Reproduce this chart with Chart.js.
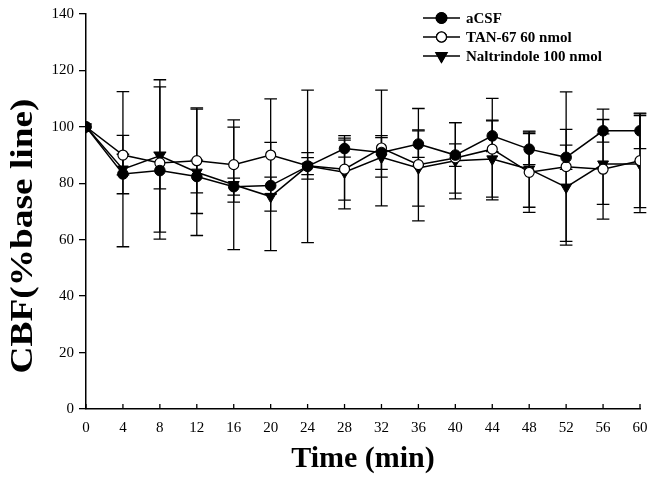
<!DOCTYPE html>
<html><head><meta charset="utf-8">
<script src="https://cdn.jsdelivr.net/npm/chart.js@4/dist/chart.umd.min.js"></script>
<style>html,body{margin:0;padding:0;background:#fff;}#wrap{width:653px;height:480px;}</style>
</head><body><div id="wrap"><canvas id="c" width="653" height="480"></canvas></div>
<script>
const times = [0, 4, 8, 12, 16, 20, 24, 28, 32, 36, 40, 44, 48, 52, 56, 60];
const yTicks = [0, 20, 40, 60, 80, 100, 120, 140];
const seriesNames = ['aCSF', 'TAN-67 60 nmol', 'Naltrindole 100 nmol'];
const aCSF      = [100, 83.3, 84.5, 82.4, 78.8, 79.2, 86.0, 92.3, 90.9, 93.9, 90.0, 96.8, 92.1, 89.2, 98.6, 98.6];
const aCSFErr   = [0, 7, 6.5, 5.8, 3, 3, 27, 3, 6, 4.7, 4, 5.6, 5.5, 4.3, 4, 6.3];
const tan67     = [100, 90.0, 87.2, 88.0, 86.6, 90.0, 86.2, 85.0, 92.5, 86.6, 89.0, 92.1, 83.9, 85.9, 85.0, 88.0];
const tan67Err  = [0, 7, 27, 18.7, 13.3, 19.9, 4.7, 11, 20.5, 19.9, 12.5, 18, 14.2, 26.5, 12.5, 16.6];
const nal       = [100, 85.0, 89.7, 83.9, 79.5, 75.3, 86.1, 83.9, 89.2, 85.4, 88.0, 88.6, 85.0, 78.6, 86.8, 86.8];
const nalErr    = [0, 27.5, 27, 22.4, 23, 19.2, 3, 13, 7, 13.5, 13.5, 13.5, 13.5, 20.5, 19.5, 17.2];
const xTitle = 'Time (min)';
const yTitle = 'CBF(%base line)';

const toXY = arr => times.map((t, i) => ({x: t, y: arr[i]}));

const errorBars = {
  id: 'errorBars',
  beforeDatasetsDraw(chart) {
    const {ctx, scales: {x, y}} = chart;
    ctx.save();
    ctx.strokeStyle = '#000';
    ctx.lineWidth = 1.3;
    chart.data.datasets.forEach(ds => {
      ds.errors.forEach((e, i) => {
        if (!e) return;
        const px = x.getPixelForValue(times[i]);
        const v = ds.data[i].y;
        const top = y.getPixelForValue(v + e), bot = y.getPixelForValue(v - e);
        ctx.beginPath();
        ctx.moveTo(px, top); ctx.lineTo(px, bot);
        ctx.moveTo(px - 6.3, top); ctx.lineTo(px + 6.3, top);
        ctx.moveTo(px - 6.3, bot); ctx.lineTo(px + 6.3, bot);
        ctx.stroke();
      });
    });
    ctx.restore();
  }
};

const xInnerTicks = {
  id: 'xInnerTicks',
  afterDraw(chart) {
    const {ctx, scales: {x, y}} = chart;
    ctx.save();
    ctx.strokeStyle = '#000';
    ctx.lineWidth = 1.3;
    const base = y.getPixelForValue(0);
    times.forEach(t => {
      const px = x.getPixelForValue(t);
      ctx.beginPath(); ctx.moveTo(px, base); ctx.lineTo(px, base - 5); ctx.stroke();
    });
    ctx.restore();
  }
};

const yTitlePlugin = {
  id: 'yTitlePlugin',
  afterDraw(chart) {
    const ctx = chart.ctx;
    ctx.save();
    ctx.font = 'bold 31px "Liberation Serif"';
    ctx.fillStyle = '#000';
    ctx.textAlign = 'center';
    ctx.textBaseline = 'middle';
    ctx.translate(24, 236);
    ctx.rotate(-Math.PI / 2);
    const w = ctx.measureText(yTitle).width;
    ctx.scale(275 / w, 1);
    ctx.fillText(yTitle, 0, 0);
    ctx.restore();
  }
};

const legendPlugin = {
  id: 'legendPlugin',
  afterDraw(chart) {
    const ctx = chart.ctx;
    const rows = [18, 37, 56];
    ctx.save();
    chart.data.datasets.forEach((ds, i) => {
      const yy = rows[i];
      ctx.strokeStyle = '#000';
      ctx.lineWidth = 1.5;
      ctx.beginPath(); ctx.moveTo(423, yy); ctx.lineTo(460, yy); ctx.stroke();
      Chart.helpers.drawPoint(ctx, {
        pointStyle: ds.pointStyle, radius: ds.pointRadius, rotation: ds.pointRotation || 0, borderWidth: ds.pointBorderWidth
      }, 441.5, yy);
      ctx.fillStyle = ds.pointBackgroundColor; ctx.strokeStyle = '#000';
      ctx.fill(); ctx.lineWidth = ds.pointBorderWidth; ctx.stroke();
      ctx.fillStyle = '#000';
      ctx.font = 'bold 15px "Liberation Serif"';
      ctx.textAlign = 'left';
      ctx.textBaseline = 'middle';
      ctx.fillText(seriesNames[i], 466, yy + 1);
    });
    ctx.restore();
  }
};

new Chart(document.getElementById('c'), {
  type: 'line',
  data: {
    datasets: [
      {label: seriesNames[0], data: toXY(aCSF), errors: aCSFErr, order: 0,
       borderColor: '#000', borderWidth: 1.5, pointStyle: 'circle', pointRadius: 5.3,
       pointBackgroundColor: '#000', pointBorderColor: '#000', pointBorderWidth: 1},
      {label: seriesNames[1], data: toXY(tan67), errors: tan67Err, order: 1,
       borderColor: '#000', borderWidth: 1.5, pointStyle: 'circle', pointRadius: 5,
       pointBackgroundColor: '#fff', pointBorderColor: '#000', pointBorderWidth: 1.2},
      {label: seriesNames[2], data: toXY(nal), errors: nalErr, order: 2,
       borderColor: '#000', borderWidth: 1.5, pointStyle: 'triangle', pointRadius: 6.3, pointRotation: 180,
       pointBackgroundColor: '#000', pointBorderColor: '#000', pointBorderWidth: 1}
    ]
  },
  options: {
    responsive: false,
    animation: false,
    devicePixelRatio: 1,
    layout: {padding: {left: 0, right: 13, top: 13, bottom: 0}},
    plugins: {legend: {display: false}, tooltip: {enabled: false}},
    elements: {line: {tension: 0}},
    scales: {
      x: {
        type: 'linear', min: 0, max: 60,
        afterBuildTicks: s => { s.ticks = times.map(v => ({value: v})); },
        afterFit: s => { s.height = 71; },
        grid: {display: false},
        border: {display: true, color: '#000', width: 1.5},
        ticks: {color: '#000', font: {family: 'Liberation Serif', size: 15}, padding: 2, maxRotation: 0, autoSkip: false},
        title: {display: true, text: xTitle, color: '#000', font: {family: 'Liberation Serif', size: 30, weight: 'bold'}, padding: {top: 0, bottom: 3}}
      },
      y: {
        min: 0, max: 140,
        afterBuildTicks: s => { s.ticks = yTicks.map(v => ({value: v})); },
        afterFit: s => { s.width = 86; },
        grid: {drawOnChartArea: false, drawTicks: true, tickLength: 7, color: '#000', lineWidth: 1.3},
        border: {display: true, color: '#000', width: 1.5},
        ticks: {color: '#000', font: {family: 'Liberation Serif', size: 15}, padding: 5}
      }
    }
  },
  plugins: [errorBars, xInnerTicks, yTitlePlugin, legendPlugin]
});
</script></body></html>
